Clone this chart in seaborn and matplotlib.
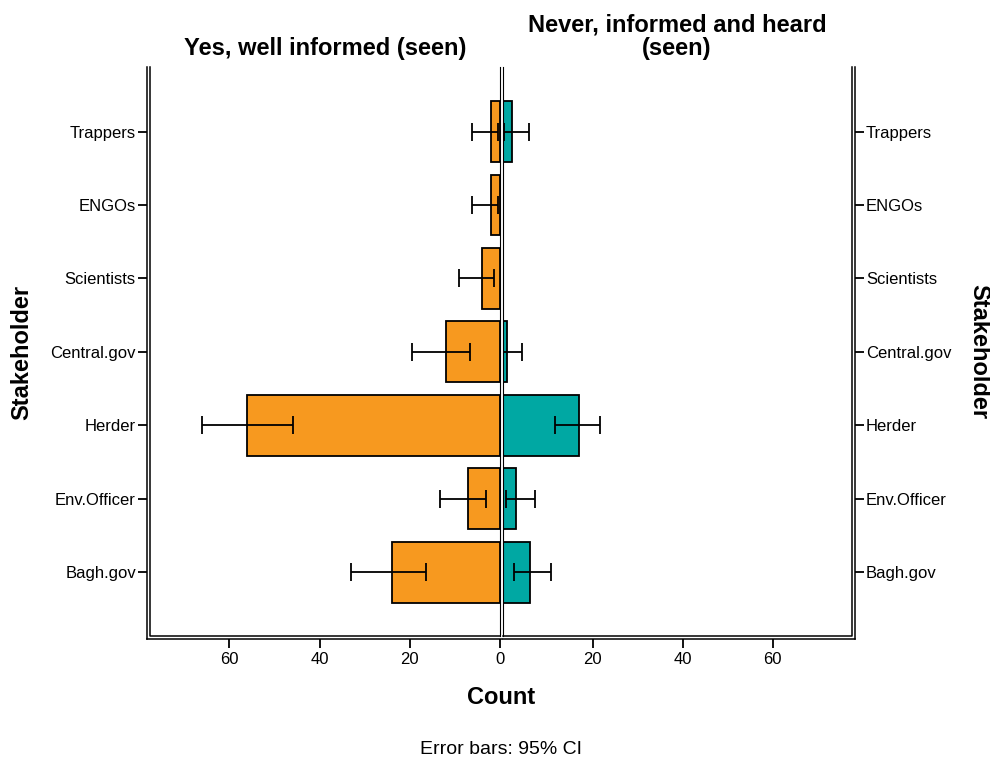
import matplotlib
matplotlib.use("Agg")
import matplotlib.pyplot as plt
import numpy as np
import pandas as pd
import seaborn as sns

# Stakeholder groups (top to bottom)
stakeholders = ["Trappers", "ENGOs", "Scientists", "Central.gov", "Herder",
                "Env.Officer", "Bagh.gov"]

# "Yes, well informed (seen)" counts with 95% CI bounds
informed_counts = [2, 2, 4, 12, 56, 7, 24]
informed_ci_low = [0.4, 0.4, 1.3, 6.6, 45.9, 3.1, 16.4]
informed_ci_high = [6.3, 6.3, 9.2, 19.5, 66.0, 13.3, 33.1]

# "Never, informed and heard (seen)" counts with 95% CI bounds
never_counts = [2, 0, 0, 1, 17, 3, 6]
never_ci_low = [0.4, np.nan, np.nan, 0.1, 11.6, 0.7, 2.5]
never_ci_high = [5.8, np.nan, np.nan, 4.2, 21.7, 7.1, 10.8]

x_ticks_left = [60, 40, 20, 0]
x_ticks_right = [20, 40, 60]
panel_titles = ["Yes, well informed (seen)", "Never, informed and heard\n(seen)"]

ORANGE = "#F7991F"
TEAL = "#00A8A3"
LW = 1.1
BAR_LW = 1.3
XMAX = 77.6

sns.set_style("white")
plt.rcParams["font.family"] = ["Liberation Sans", "DejaVu Sans"]
for key in ("text.color", "axes.labelcolor", "xtick.color", "ytick.color",
            "axes.edgecolor"):
    plt.rcParams[key] = "black"

W, H = 990, 758
fig = plt.figure(figsize=(W / 100, H / 100), dpi=100)

def fx(px):
    return px / W

def fy(py):
    return 1 - py / H

top_px, bot_px = 67, 636
ax_l = fig.add_axes([fx(150), fy(bot_px), fx(500) - fx(150), fy(top_px) - fy(bot_px)])
ax_r = fig.add_axes([fx(502.6), fy(bot_px), fx(852) - fx(502.6), fy(top_px) - fy(bot_px)])

df_l = pd.DataFrame({"Stakeholder": stakeholders, "Count": informed_counts})
df_r = pd.DataFrame({"Stakeholder": stakeholders, "Count": never_counts})

sns.barplot(data=df_l, x="Count", y="Stakeholder", orient="h", color=ORANGE,
            saturation=1, edgecolor="black", linewidth=BAR_LW, width=0.83,
            errorbar=None, ax=ax_l)
sns.barplot(data=df_r, x="Count", y="Stakeholder", orient="h", color=TEAL,
            saturation=1, edgecolor="black", linewidth=BAR_LW, width=0.83,
            errorbar=None, ax=ax_r)

pos = np.arange(len(stakeholders))
for ax, lo, hi in [(ax_l, informed_ci_low, informed_ci_high),
                   (ax_r, never_ci_low, never_ci_high)]:
    lo = np.asarray(lo, float)
    hi = np.asarray(hi, float)
    mid = (lo + hi) / 2
    ok = ~np.isnan(lo)
    ax.errorbar(mid[ok], pos[ok], xerr=(hi[ok] - lo[ok]) / 2, fmt="none",
                ecolor="black", elinewidth=1.3, capsize=6.5, capthick=1.3,
                zorder=5)

off_pt = 3 * 72 / 100  # 3 px gap between the double frame lines
y_lo, y_hi = 6.87, -0.88
ypx_per_unit = (bot_px - top_px) / (y_lo - y_hi)
xpx_l = 350 / XMAX
xpx_r = (852 - 502.6) / XMAX

# Left panel: axis on the left, values grow to the left
ax_l.set_xlim(XMAX, 0)
ax_l.set_ylim(y_lo, y_hi)
ax_l.set_xticks(x_ticks_left)
ax_l.spines["top"].set_visible(False)
ax_l.spines["left"].set_position(("outward", off_pt))
ax_l.spines["bottom"].set_position(("outward", off_pt))
ax_l.spines["left"].set_bounds(y_lo + 3 / ypx_per_unit, y_hi)
ax_l.spines["bottom"].set_bounds(XMAX + 3 / xpx_l, -2 / xpx_l)
ax_l.yaxis.set_ticks_position("left")
ax_l.plot([0, 0, 1], [1, 0, 0], transform=ax_l.transAxes, color="black",
          lw=LW, clip_on=False, solid_capstyle="projecting")

# Right panel: axis on the right
ax_r.set_xlim(0, XMAX)
ax_r.set_ylim(y_lo, y_hi)
ax_r.set_xticks(x_ticks_right)
ax_r.spines["top"].set_visible(False)
ax_r.spines["right"].set_position(("outward", off_pt))
ax_r.spines["bottom"].set_position(("outward", off_pt))
ax_r.spines["right"].set_bounds(y_lo + 3 / ypx_per_unit, y_hi)
ax_r.spines["bottom"].set_bounds(0, XMAX + 3 / xpx_r)
ax_r.yaxis.tick_right()
ax_r.tick_params(axis="y", labelleft=False, labelright=True)
ax_r.plot([0, 1, 1], [0, 0, 1], transform=ax_r.transAxes, color="black",
          lw=LW, clip_on=False, solid_capstyle="projecting")

for ax in (ax_l, ax_r):
    for sp in ax.spines.values():
        sp.set_color("black")
        sp.set_linewidth(LW)
    ax.set_xlabel("")
    ax.set_ylabel("")
    ax.tick_params(axis="both", which="major", direction="out", length=6.5,
                   width=1.3, color="black", labelcolor="black", labelsize=12,
                   pad=1.5, bottom=True)
    ax.tick_params(axis="x", pad=3, labelsize=12)
    ax.set_facecolor("white")

# thinner lines where the two panels meet at zero
ax_l.spines["right"].set_linewidth(0.8)
ax_r.spines["left"].set_linewidth(0.8)

# Panel titles
fig.text(fx(325), fy(48), panel_titles[0], ha="center", va="center",
         fontsize=17, fontweight="bold")
fig.text(fx(677), fy(37), panel_titles[1], ha="center", va="center",
         fontsize=17, fontweight="bold", linespacing=1.05)

# Axis titles
fig.text(fx(501), fy(698), "Count", ha="center", va="center",
         fontsize=17, fontweight="bold")
fig.text(fx(22), fy(352), "Stakeholder", ha="center", va="center",
         rotation=90, fontsize=17, fontweight="bold")
fig.text(fx(979), fy(352), "Stakeholder", ha="center", va="center",
         rotation=270, fontsize=17, fontweight="bold")

fig.text(fx(501), fy(749), "Error bars: 95% CI", ha="center", va="center",
         fontsize=14)

fig.savefig("out.png", dpi=100, facecolor="white")
